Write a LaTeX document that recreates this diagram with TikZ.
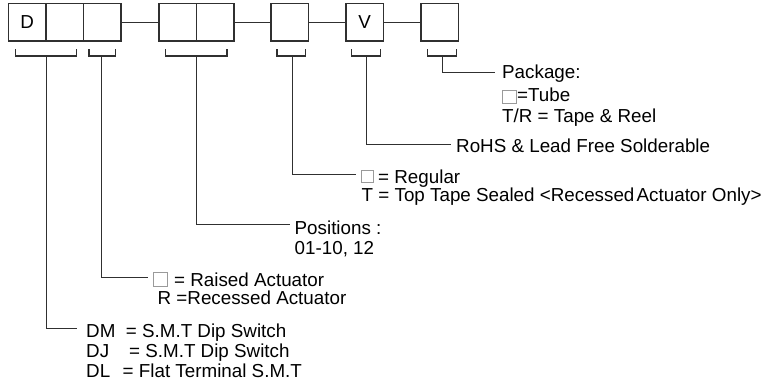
\documentclass[tikz,border=0pt]{standalone}
\usepackage{fontspec}
\setmainfont{Liberation Sans}
\newcommand\diafont{\fontsize{18.8}{20}\selectfont}
\definecolor{ln}{HTML}{303030}
\definecolor{sq}{HTML}{9A9A9A}
\begin{document}
\begin{tikzpicture}[x=1pt,y=-1pt,
  box/.style={draw=ln, line width=1.2pt, minimum width=37.5pt, minimum height=37.5pt, inner sep=0pt, font=\diafont},
  lbl/.style={anchor=base west, inner sep=0pt, font=\diafont},
  conn/.style={draw=ln, line width=1.1pt},
  chk/.style={draw=sq, line width=0.8pt, minimum size=13.5pt, inner sep=0pt}]
\fill[white] (0,0) rectangle (767,383);
\useasboundingbox (0,0) rectangle (767,383);
% code boxes
\node[box] (b1) at (27.25,22.25) {D};
\node[box] (b2) at (64.75,22.25) {};
\node[box] (b3) at (102.25,22.25) {};
\node[box] (b4) at (177.75,22.25) {};
\node[box] (b5) at (215.25,22.25) {};
\node[box] (b6) at (289.75,22.25) {};
\node[box] (b7) at (364.75,22.25) {V};
\node[box] (b8) at (439.75,22.25) {};
\draw[conn] (b3.east) -- (b4.west);
\draw[conn] (b5.east) -- (b6.west);
\draw[conn] (b6.east) -- (b7.west);
\draw[conn] (b7.east) -- (b8.west);
% brackets
\draw[conn] (15.7,49.3) |- (76.3,56) -- (76.3,49.3);
\draw[conn] (89,49.3) |- (115.7,56) -- (115.7,49.3);
\draw[conn] (165.7,49.3) |- (227,56) -- (227,49.3);
\draw[conn] (277,49.3) |- (305.7,56) -- (305.7,49.3);
\draw[conn] (351.7,49.3) |- (380.3,56) -- (380.3,49.3);
\draw[conn] (427.7,49.3) |- (456.3,56) -- (456.3,49.3);
% stems and leader ends
\coordinate (s1) at (46.3,56);  \coordinate (e1) at (76.7,328.3);
\coordinate (s2) at (101.7,56); \coordinate (e2) at (148.3,277.7);
\coordinate (s3) at (196.3,56); \coordinate (e3) at (290,224.3);
\coordinate (s4) at (292.3,56); \coordinate (e4) at (356,174.3);
\coordinate (s5) at (366.5,56); \coordinate (e5) at (451,144.5);
\coordinate (s6) at (442.3,56); \coordinate (e6) at (495,72.5);
\draw[conn] (s1) |- (e1);
\draw[conn] (s2) |- (e2);
\draw[conn] (s3) |- (e3);
\draw[conn] (s4) |- (e4);
\draw[conn] (s5) |- (e5);
\draw[conn] (s6) |- (e6);
% labels
\node[lbl] (p1) at (502,78.5) {Package:};
\node[chk] (p2b) at (509.5,96.8) {};
\node[lbl] (p2) at (517,101.5) {=Tube};
\node[lbl] (p3) at (502,122.5) {T/R = Tape \& Reel};
\node[lbl] (r1) at (456,152) {RoHS \& Lead Free Solderable};
\node[chk, minimum size=12.5pt] (g1b) at (367.3,176.5) {};
\node[lbl] (g1) at (378,183.5) {= Regular};
\node[lbl] (g2) at (361.5,201.5) {T = Top Tape Sealed <Recessed\hspace{0.12em}Actuator Only>};
\node[lbl] (q1) at (294.5,234) {Positions :};
\node[lbl] (q2) at (294.5,254) {01-10, 12};
\node[chk] (a1b) at (160.2,279.2) {};
\node[lbl] (a1) at (174,286) {= Raised Actuator};
\node[lbl] (a2) at (157.5,304) {R =Recessed Actuator};
\node[lbl] (d1) at (86,337) {DM\hspace{10.5pt}= S.M.T Dip Switch};
\node[lbl] (d2) at (86,357) {DJ\hspace{20pt}= S.M.T Dip Switch};
\node[lbl] (d3) at (86,377) {DL\hspace{12.5pt}= Flat Terminal S.M.T};
\end{tikzpicture}
\end{document}
